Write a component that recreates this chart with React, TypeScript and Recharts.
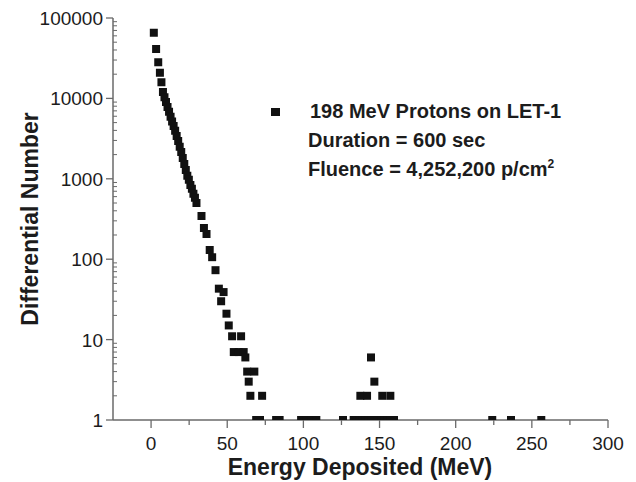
import React from "react";
import { ScatterChart, Scatter, XAxis, YAxis, ZAxis, Legend } from "recharts";

// Steep low-energy part of the spectrum
const spectrumEnergy = [
  1.8, 3.3, 4.7, 5.8, 6.8, 7.8, 8.8, 9.8, 10.8, 11.8, 12.8, 13.8, 14.8, 15.8,
  16.8, 17.8, 18.8, 19.8, 20.8, 21.8, 22.8, 23.8, 24.8, 25.8, 26.8, 27.8, 28.8,
  29.8,
];
const spectrumCounts = [
  65600, 41100, 28100, 20900, 15850, 12000, 10300, 9000, 7800, 6800, 5900, 5150,
  4550, 3950, 3400, 2950, 2500, 2150, 1820, 1530, 1290, 1090, 970, 840, 750, 650,
  580, 500,
];

// Scattered bins after the knee
const kneeEnergy = [
  33.1, 34.7, 36.4, 38.5, 40.1, 42.3, 44.5, 46.0, 47.6, 49.5, 51.0, 53.2, 54.3,
  57.5, 59.1, 60.8, 61.9, 63.1, 64.1, 65.2, 67.8, 72.9,
];
const kneeCounts = [
  344, 244, 206, 130, 106, 73, 43, 30, 39, 21, 15, 11, 7, 7, 11, 7, 6, 4, 3, 2, 4,
  2,
];

// Bump around 145 MeV
const bumpEnergy = [137.4, 141.8, 144.4, 146.6, 151.8, 157.1];
const bumpCounts = [2, 2, 6, 3, 2, 2];

// Bins holding a single event
const singleEnergy = [
  69.0, 71.5, 82.1, 84.4, 98.5, 101.8, 105.2, 108.5, 126.0, 133, 135, 137, 139,
  141, 143, 145, 147, 149, 151, 153, 155, 157, 159.5, 224.0, 236.3, 256.2,
];

const xTicks = [0, 25, 50, 75, 100, 125, 150, 175, 200, 225, 250, 275, 300];
const xLabelled = [0, 50, 100, 150, 200, 250, 300];
const yDecades = [1, 10, 100, 1000, 10000, 100000];

const yTicks: number[] = [];
yDecades.forEach((d, i) => {
  yTicks.push(d);
  if (i < yDecades.length - 1) for (let k = 2; k <= 9; k++) yTicks.push(d * k);
});

const data = [
  ...spectrumEnergy.map((e, i) => ({ e, n: spectrumCounts[i] })),
  ...kneeEnergy.map((e, i) => ({ e, n: kneeCounts[i] })),
  ...bumpEnergy.map((e, i) => ({ e, n: bumpCounts[i] })),
  ...singleEnergy.map((e) => ({ e, n: 1 })),
];

const FONT = '"Liberation Sans", Arial, sans-serif';
const AXIS = "#6a6a6a";
const INK = "#1c1c1c";

function XTick({ x, y, payload }: any) {
  const major = xLabelled.includes(payload.value);
  return (
    <g>
      <line x1={x} x2={x} y1={y} y2={y + (major ? 8 : 5)} stroke={AXIS} strokeWidth={1.3} />
      {major && (
        <text x={x} y={y + 30} textAnchor="middle" fontFamily={FONT} fontSize={19} fill={INK}>
          {payload.value}
        </text>
      )}
    </g>
  );
}

function YTick({ x, y, payload }: any) {
  const major = yDecades.includes(payload.value);
  if (!major) {
    return <line x1={x} x2={x + 4} y1={y} y2={y} stroke={AXIS} strokeWidth={1} />;
  }
  return (
    <g>
      <line x1={x - 7} x2={x} y1={y} y2={y} stroke={AXIS} strokeWidth={1.3} />
      <text x={x - 10} y={y + 7} textAnchor="end" fontFamily={FONT} fontSize={19} fill={INK}>
        {payload.value}
      </text>
    </g>
  );
}

function RunNote() {
  return (
    <div style={{ fontFamily: FONT, fontWeight: "bold", fontSize: 20, color: INK, lineHeight: "29px" }}>
      <div style={{ display: "flex", alignItems: "center" }}>
        <span style={{ display: "inline-block", width: 9, height: 8, background: "#111", marginLeft: 5, marginRight: 30 }} />
        <span>198 MeV Protons on LET-1</span>
      </div>
      <div style={{ paddingLeft: 42 }}>Duration = 600 sec</div>
      <div style={{ paddingLeft: 42 }}>
        Fluence = 4,252,200 p/cm<sup style={{ fontSize: 12, lineHeight: 0 }}>2</sup>
      </div>
    </div>
  );
}

export default function App() {
  return (
    <div style={{ position: "absolute", left: 0, top: 0, background: "#fff" }}>
      <ScatterChart width={636} height={482} margin={{ top: 18, right: 28, bottom: 0, left: 0 }}>
        <XAxis
          type="number"
          dataKey="e"
          domain={[-25, 300]}
          ticks={xTicks}
          interval={0}
          height={62}
          tickSize={0}
          tickMargin={0}
          tick={<XTick />}
          axisLine={{ stroke: AXIS, strokeWidth: 1.5 }}
          label={() => (
            <text x={360} y={475} textAnchor="middle" fontFamily={FONT} fontWeight="bold" fontSize={23} fill={INK}>
              Energy Deposited (MeV)
            </text>
          )}
        />
        <YAxis
          type="number"
          dataKey="n"
          scale="log"
          domain={[1, 100000]}
          allowDataOverflow
          ticks={yTicks}
          interval={0}
          width={113}
          tickSize={0}
          tickMargin={0}
          tick={<YTick />}
          axisLine={{ stroke: AXIS, strokeWidth: 1.5 }}
          label={() => (
            <text
              x={38}
              y={219}
              transform="rotate(-90, 38, 219)"
              textAnchor="middle"
              fontFamily={FONT}
              fontWeight="bold"
              fontSize={23}
              fill={INK}
            >
              Differential Number
            </text>
          )}
        />
        <ZAxis range={[64, 64]} />
        <Legend
          layout="horizontal"
          verticalAlign="middle"
          align="center"
          content={<RunNote />}
          wrapperStyle={{ top: 97, left: 266, width: 340 }}
        />
        <Scatter
          name="198 MeV Protons on LET-1"
          data={data}
          shape="square"
          fill="#111"
          isAnimationActive={false}
        />
      </ScatterChart>
    </div>
  );
}
